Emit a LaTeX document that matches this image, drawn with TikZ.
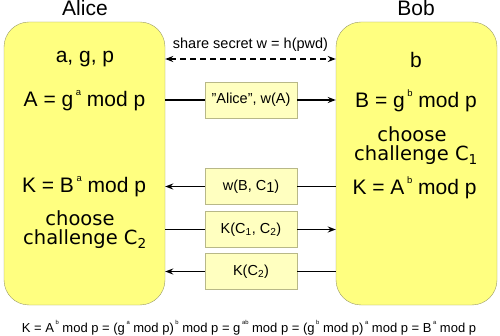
\documentclass[tikz,border=0pt]{standalone}
\usepackage{fontspec}
\setmainfont{Liberation Sans}
\newfontfamily\widefont{DejaVu Sans}
\usepackage{tikz}
\usetikzlibrary{arrows.meta, positioning}
\definecolor{partyfill}{HTML}{FFFF80}
\definecolor{partyline}{HTML}{9A9A6A}
\definecolor{msgfill}{HTML}{FFFFC0}
\definecolor{msgline}{HTML}{B8B888}
\newcommand{\up}[1]{\kern0.12em\raisebox{0.55em}{\scalebox{0.45}{#1}}}

\begin{document}
\begin{tikzpicture}[x=1pt, y=-1pt,
    party/.style={draw=partyline, fill=partyfill, rounded corners=25pt,
        minimum width=161pt, minimum height=283pt, inner sep=0pt},
    msg/.style={draw=msgline, fill=msgfill, minimum width=92pt,
        minimum height=36pt, inner sep=0pt, font=\fontsize{14.5}{16}\selectfont},
    big/.style={font=\fontsize{21}{21}\selectfont, anchor=base, inner sep=0pt},
    wide/.style={font=\widefont\fontsize{19.5}{19}\selectfont, anchor=base, inner sep=0pt},
    wire/.style={line width=1.4pt},
    arr/.style={wire, -{Stealth[length=8pt, width=6pt]}}]
    \useasboundingbox (0,0) rectangle (500,336);

    % The two parties
    \node[party] (alice) at (84.5,163.5) {};
    \node[party] (bob) at (416.5,163.5) {};
    \node[big] (alicename) at (85,16) {Alice};
    \node[big] (bobname) at (416,16) {Bob};

    % Alice's side
    \node[big] (agp) at (85,63) {a, g, p};
    \node[big] (avalue) at (84.5,107) {A = g\up{a} mod p};
    \node[big] (akey) at (84,193) {K = B\up{a} mod p};
    \node[wide] (achoose) at (80,226) {choose};
    \node[wide] (achal) at (85,245) {challenge C\textsubscript{2}};

    % Bob's side
    \node[big] (bsecret) at (416,68) {b};
    \node[big] (bvalue) at (416,108) {B = g\up{b} mod p};
    \node[wide] (bchoose) at (412,142) {choose};
    \node[wide] (bchal) at (416,161) {challenge C\textsubscript{1}};
    \node[big] (bkey) at (414.5,195) {K = A\up{b} mod p};

    % Shared secret
    \coordinate (sharey) at (250,59);
    \node[font=\fontsize{14.5}{16}\selectfont, anchor=base, inner sep=0pt] (share) at (250.5,49)
        {share secret w = h(pwd)};
    \draw[wire, dash pattern=on 6pt off 4pt, {Stealth[length=8pt, width=6pt]}-{Stealth[length=8pt, width=6pt]}]
        (sharey -| alice.east) -- (sharey -| bob.west);

    % Messages
    \node[msg] (msgA) at (251,100) {"Alice", w(A)};
    \node[msg] (msgB) at (251,186.5) {w(B, C\raisebox{-2pt}{1})};
    \node[msg] (msgC) at (251,229.5) {K(C\textsubscript{1}, C\textsubscript{2})};
    \node[msg] (msgD) at (251,271.5) {K(C\textsubscript{2})};

    \draw[wire] (msgA.west -| alice.east) -- (msgA.west);
    \draw[arr] (msgA.east) -- (msgA.east -| bob.west);
    \draw[wire] (msgB.east -| bob.west) -- (msgB.east);
    \draw[arr] (msgB.west) -- (msgB.west -| alice.east);
    \draw[wire] (msgC.west -| alice.east) -- (msgC.west);
    \draw[arr] (msgC.east) -- (msgC.east -| bob.west);
    \draw[wire] (msgD.east -| bob.west) -- (msgD.east);
    \draw[arr] (msgD.west) -- (msgD.west -| alice.east);

    % Key agreement
    \node[font=\fontsize{13}{14}\selectfont, anchor=base, inner sep=0pt] (keyline) at (249,332)
        {K = A\up{b} mod p = (g\up{a} mod p)\up{b} mod p = g\up{ab} mod p = (g\up{b} mod p)\up{a} mod p = B\up{a} mod p};
\end{tikzpicture}
\end{document}
